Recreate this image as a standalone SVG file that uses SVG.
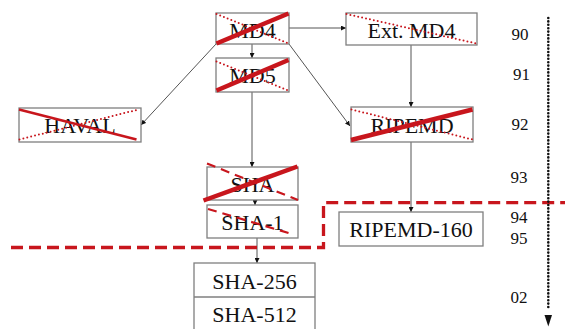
<svg xmlns="http://www.w3.org/2000/svg" width="565" height="329" viewBox="0 0 565 329">
<defs>
<marker id="ah" viewBox="0 0 10 10" refX="10" refY="5" markerWidth="5" markerHeight="5" orient="auto" markerUnits="userSpaceOnUse">
<path d="M0,0 L10,5 L0,10 z" fill="#111"/>
</marker>
<style>
.box{fill:#fff;stroke:#7f7f7f;stroke-width:1.3}
.lbl{font-family:"Liberation Serif","Times New Roman",serif;font-size:22px;fill:#111;text-anchor:middle}
.yr{font-family:"Liberation Serif","Times New Roman",serif;font-size:17px;fill:#111;text-anchor:middle}
.con{stroke:#555;stroke-width:1;fill:none;marker-end:url(#ah)}
.x-solid{stroke:#c8161d;stroke-width:4.5;stroke-linecap:butt}
.x-thin{stroke:#c8161d;stroke-width:2.5}
.x-dot{stroke:#c8161d;stroke-width:2;stroke-dasharray:0 4;stroke-linecap:round}
.x-dash{stroke:#c8161d;stroke-width:2.2;stroke-dasharray:9 6}
.border{stroke:#c8161d;stroke-width:3.3;fill:none;stroke-dasharray:12 6}
</style>
</defs>
<rect width="565" height="329" fill="#fff"/>

<g id="connectors">
<line class="con" x1="289" y1="28" x2="346" y2="28"/>
<line class="con" x1="252" y1="44" x2="252" y2="58"/>
<line class="con" x1="216" y1="44" x2="141" y2="125"/>
<line class="con" x1="289" y1="44" x2="350" y2="126"/>
<line class="con" x1="411" y1="45" x2="411" y2="107"/>
<line class="con" x1="252" y1="92" x2="252" y2="167"/>
<line class="con" x1="255" y1="200" x2="255" y2="205"/>
<line class="con" x1="257" y1="238" x2="257" y2="263"/>
<line class="con" x1="411" y1="142" x2="411" y2="212"/>
</g>

<g id="MD4">
<rect class="box" x="216" y="13" width="73" height="31"/>
<text class="lbl" x="252.5" y="37.5">MD4</text>
<line class="x-solid" x1="216.5" y1="43.5" x2="288.5" y2="13.5"/>
<line class="x-dot" x1="216.5" y1="14" x2="288.5" y2="43.5"/>
</g>

<g id="ExtMD4">
<rect class="box" x="346" y="13" width="131" height="32"/>
<text class="lbl" x="411.5" y="37.5">Ext. MD4</text>
<line class="x-dot" x1="346.5" y1="14" x2="476.5" y2="43.5"/>
</g>

<g id="MD5">
<rect class="box" x="216" y="58" width="73" height="34"/>
<text class="lbl" x="252.5" y="83">MD5</text>
<line class="x-solid" x1="216.5" y1="90.5" x2="288.5" y2="60"/>
<line class="x-dot" x1="216.5" y1="61.5" x2="288.5" y2="90.5"/>
</g>

<g id="HAVAL">
<rect class="box" x="19" y="108" width="122" height="34"/>
<text class="lbl" x="80" y="133">HAVAL</text>
<line class="x-thin" x1="19" y1="109.5" x2="136.5" y2="139.5"/>
<line class="x-dot" x1="19.5" y1="139.5" x2="136.5" y2="110"/>
</g>

<g id="RIPEMD">
<rect class="box" x="351" y="107" width="122" height="35"/>
<text class="lbl" x="412" y="132.5">RIPEMD</text>
<line class="x-solid" x1="351" y1="140" x2="472.5" y2="109.5"/>
<line class="x-dot" x1="351.5" y1="109.5" x2="472.5" y2="139.5"/>
</g>

<g id="SHA">
<rect class="box" x="207" y="167" width="91" height="33"/>
<text class="lbl" x="252.5" y="192">SHA</text>
<line class="x-solid" x1="203.5" y1="200.5" x2="297.5" y2="166.5"/>
<line class="x-dash" x1="207" y1="163.5" x2="298" y2="200"/>
</g>

<g id="SHA1">
<rect class="box" x="207" y="205" width="91" height="33"/>
<text class="lbl" x="252.5" y="229.5">SHA-1</text>
<line class="x-dash" x1="208" y1="209" x2="292" y2="234"/>
</g>

<g id="RIPEMD160">
<rect class="box" x="339" y="212" width="144" height="34"/>
<text class="lbl" x="411" y="237">RIPEMD-160</text>
</g>

<g id="SHA2">
<rect class="box" x="194" y="263" width="121" height="70"/>
<line x1="194" y1="297" x2="315" y2="297" stroke="#7f7f7f" stroke-width="1.3"/>
<text class="lbl" x="254.5" y="288.5">SHA-256</text>
<text class="lbl" x="254.5" y="322">SHA-512</text>
</g>

<g id="border">
<path class="border" d="M11,247.5 H323.5 V202.7 H565"/>
</g>

<g id="timeline">
<line x1="548.3" y1="18" x2="548.3" y2="308" stroke="#111" stroke-width="2.6" stroke-dasharray="0 3.4" stroke-linecap="round"/>
<path d="M544.5,315 L552,315 L548.3,326.5 z" fill="#111"/>
<text class="yr" x="520" y="39.5">90</text>
<text class="yr" x="521.5" y="80">91</text>
<text class="yr" x="520" y="130">92</text>
<text class="yr" x="519" y="183">93</text>
<text class="yr" x="519" y="222.5">94</text>
<text class="yr" x="519" y="244">95</text>
<text class="yr" x="519" y="303">02</text>
</g>
</svg>
